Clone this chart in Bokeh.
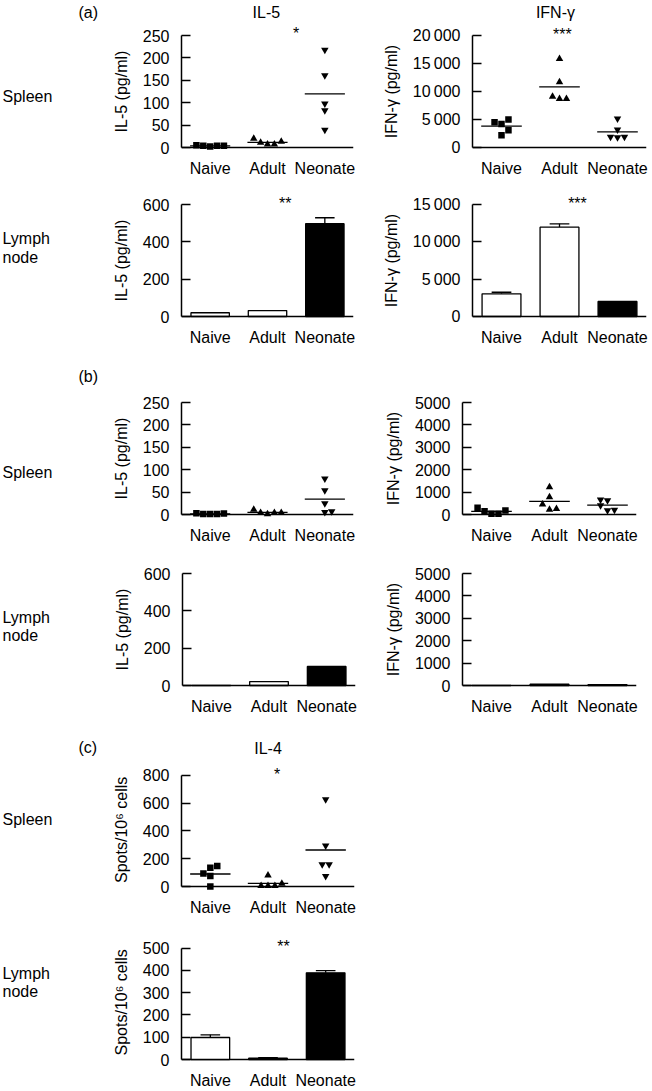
import numpy as np
from bokeh.plotting import figure
from bokeh.layouts import column, row
from bokeh.models import Range1d, FixedTicker, Span, Label, Title
from bokeh.core.properties import value
from bokeh.embed import file_html
from bokeh.resources import INLINE

# ---------------- data ----------------
categories = ["Naive", "Adult", "Neonate"]

# (a) spleen, IL-5 (pg/ml), individual mice
a_spl_il5_naive = [5, 4, 2, 4, 4]
a_spl_il5_adult = [20, 11, 7, 7, 13]
a_spl_il5_neonate = [218, 161, 98, 83, 39]
# (a) spleen, IFN-g (pg/ml)
a_spl_ifn_naive = [4500, 4200, 5000, 2200, 3100]
a_spl_ifn_adult = [15850, 11700, 9100, 8700, 8700]
a_spl_ifn_neonate = [5150, 3200, 1900, 1800, 1900]
# (a) lymph node, means and SEM
a_ln_il5_mean = [20, 32, 497]
a_ln_il5_sem = [0, 0, 32]
a_ln_ifn_mean = [3040, 11960, 2010]
a_ln_ifn_sem = [210, 450, 0]

# (b) spleen
b_spl_il5_naive = [3, 1, 1, 1, 2]
b_spl_il5_adult = [11, 4, 1, 4, 4]
b_spl_il5_neonate = [80, 54, 25, 5, 7]
b_spl_ifn_naive = [300, 150, 30, 30, 180]
b_spl_ifn_adult = [1220, 780, 450, 220, 250]
b_spl_ifn_neonate = [660, 630, 400, 180, 210]
# (b) lymph node
b_ln_il5_mean = [1, 21, 102]
b_ln_il5_sem = [0, 0, 0]
b_ln_ifn_mean = [5, 60, 40]
b_ln_ifn_sem = [0, 0, 0]

# (c) IL-4 spots / 10^6 cells
c_spl_il4_naive = [93, 76, 135, 147, 0]
c_spl_il4_adult = [81, 5, 5, 5, 21]
c_spl_il4_neonate = [626, 294, 159, 159, 75]
c_ln_il4_mean = [99, 6, 389]
c_ln_il4_sem = [12, 3, 10]

# horizontal spread of overlapping dots (in dot widths)
a_spl_il5_jitter = [[-2, -1, 0, 1, 2], [-2, -1, 0, 1, 2], [0, 0, 0, 0, 0]]
a_spl_ifn_jitter = [[-1, 0, 1, 0, 1], [0, 0, -1, 0, 1], [0, 0, -1, 0, 1]]
b_spl_il5_jitter = [[-2, -1, 0, 1, 2], [-2, -1, 0, 1, 2], [0, 0, 0, 0, 1]]
b_spl_ifn_jitter = [[-2, -1, 0, 1, 2], [0, 0, -1, 0, 1], [-1, 0, -1, 0, 1]]
c_spl_il4_jitter = [[-1, 0, 0, 1, 0], [0, -1, 0, 1, 2], [0, 0, -0.5, 0.5, 0]]

il5_spl_ticks = [0, 50, 100, 150, 200, 250]
ifn_a_spl_ticks = [0, 5000, 10000, 15000, 20000]
ifn_a_spl_labels = ["0", "5\u2009000", "10\u2009000", "15\u2009000", "20\u2009000"]
il5_ln_ticks = [0, 200, 400, 600]
ifn_a_ln_ticks = [0, 5000, 10000, 15000]
ifn_a_ln_labels = ["0", "5\u2009000", "10\u2009000", "15\u2009000"]
ifn_b_ticks = [0, 1000, 2000, 3000, 4000, 5000]
il4_spl_ticks = [0, 200, 400, 600, 800]
il4_ln_ticks = [0, 100, 200, 300, 400, 500]

# ---------------- styling ----------------
FONT = "Liberation Sans"
FS = "16px"
PAD = 6
STEP = 0.12
MARKERS = ["square", "triangle", "inverted_triangle"]
LW = 1.5
LBL_IL5, LBL_IFN, LBL_SPOTS = "IL-5 (pg/ml)", "IFN-\u03b3 (pg/ml)", "Spots/10\u2076 cells"
LBL_LEN = {LBL_IL5: 81.8, LBL_IFN: 93.3, LBL_SPOTS: 104.9}


def yd(y_top, f_top, axis_y, py):
    return y_top * (axis_y - py) / (axis_y - f_top)


def base_plot(width, height, f_left, f_right, f_top, axis_y, y_top, ticks, ylabel, labels=None):
    ax_h = axis_y - f_top
    y0 = -y_top * PAD / ax_h
    y1 = y_top * axis_y / ax_h
    p = figure(width=width, height=height, x_range=Range1d(0, 3), y_range=Range1d(y0, y1),
               output_backend="svg", toolbar_location=None, tools="")
    p.min_border_left = f_left
    p.min_border_right = width - f_right
    p.min_border_top = 0
    p.min_border_bottom = height - axis_y - PAD
    p.outline_line_color = None
    p.grid.visible = False
    p.background_fill_color = "white"
    p.border_fill_color = "white"

    ya = p.yaxis[0]
    ya.ticker = FixedTicker(ticks=ticks, minor_ticks=[])
    ya.bounds = (0, y_top)
    if labels is not None:
        ya.major_label_overrides = {t: l for t, l in zip(ticks, labels)}
    ya.major_tick_in = 9
    ya.major_tick_out = 0
    ya.minor_tick_in = 0
    ya.minor_tick_out = 0
    ya.axis_line_width = LW
    ya.major_tick_line_width = LW
    ya.axis_line_color = "black"
    ya.major_label_standoff = 12
    ya.major_label_text_font = FONT
    ya.major_label_text_font_size = FS
    ya.major_label_text_color = "black"

    L = LBL_LEN[ylabel]
    p.add_layout(Title(text=ylabel, align="left", offset=ax_h / 2 + PAD - L / 2, standoff=20,
                       text_font=FONT, text_font_size=FS, text_font_style="normal",
                       text_color="black"), "left")

    xa = p.xaxis[0]
    xa.ticker = FixedTicker(ticks=[0.5, 1.5, 2.5], minor_ticks=[])
    xa.major_label_overrides = {0.5 + i: c for i, c in enumerate(categories)}
    xa.axis_line_color = None
    xa.major_tick_line_color = None
    xa.minor_tick_line_color = None
    xa.major_label_standoff = 0
    xa.major_label_text_font = FONT
    xa.major_label_text_font_size = FS
    xa.major_label_text_color = "black"

    p.add_layout(Span(location=0, dimension="width", line_color="black", line_width=LW))
    return p


def draw_scatter(p, groups, jitters):
    for i, (vals, jit, mk) in enumerate(zip(groups, jitters, MARKERS)):
        xs = [i + 0.5 + j * STEP for j in jit]
        size = 6.5 if mk == "square" else 7.5
        p.scatter(x=xs, y=vals, marker=mk, size=size, fill_color="black", line_color=None)
        m = float(np.mean(vals))
        p.segment(x0=[i + 0.5 - 0.35], y0=[m], x1=[i + 0.5 + 0.35], y1=[m],
                  line_color="black", line_width=1.3)


def draw_bars(p, means, sems):
    xs = [0.5 + i for i in range(len(means))]
    for x, m, s in zip(xs, means, sems):
        if s > 0:
            p.segment(x0=[x], y0=[m], x1=[x], y1=[m + s], line_color="black", line_width=1.3)
            p.segment(x0=[x - 0.17], y0=[m + s], x1=[x + 0.17], y1=[m + s],
                      line_color="black", line_width=1.3)
    p.vbar(x=xs, top=means, bottom=0, width=0.67, fill_color=["white", "white", "black"],
           line_color="black", line_width=1.3)


def add_text(p, x, y, text, size=FS):
    p.add_layout(Label(x=x, y=y, text=text, text_font=FONT, text_font_size=size,
                       text_align="center", text_baseline="middle", text_color="black"))


def label_col(height, axis_y, items):
    fh = axis_y + PAD
    p = figure(width=100, height=height, x_range=Range1d(0, 100), y_range=Range1d(fh, 0),
               x_axis_type=None, y_axis_type=None, output_backend="svg",
               toolbar_location=None, tools="")
    p.min_border_left = 0
    p.min_border_right = 0
    p.min_border_top = 0
    p.min_border_bottom = height - fh
    p.outline_line_color = None
    p.grid.visible = False
    p.text(x=[it[0] for it in items], y=[it[1] for it in items], text=[it[2] for it in items],
           text_font=value(FONT), text_font_size=FS, text_baseline="middle", text_align="left",
           text_color="black")
    return p


LW_FIG, RW_FIG = 260, 292

# ---- row a1 (spleen) ----
H = 185; FT = 35; AX = 147
a1L = base_plot(LW_FIG, H, 79, 253, FT, AX, 250, il5_spl_ticks, LBL_IL5)
draw_scatter(a1L, [a_spl_il5_naive, a_spl_il5_adult, a_spl_il5_neonate], a_spl_il5_jitter)
add_text(a1L, 1.48, yd(250, FT, AX, 11.5), "IL-5")
add_text(a1L, 2.0, yd(250, FT, AX, 33), "*")
a1R = base_plot(RW_FIG, H, 112, 286, FT, AX, 20000, ifn_a_spl_ticks, LBL_IFN, ifn_a_spl_labels)
draw_scatter(a1R, [a_spl_ifn_naive, a_spl_ifn_adult, a_spl_ifn_neonate], a_spl_ifn_jitter)
add_text(a1R, 1.43, yd(20000, FT, AX, 11.5), "IFN-\u03b3")
add_text(a1R, 1.55, yd(20000, FT, AX, 34), "***")
c_a1 = label_col(H, AX, [(78, 12, "(a)"), (2, 96, "Spleen")])

# ---- row a2 (lymph node) ----
H = 170; FT = 19; AX = 131
a2L = base_plot(LW_FIG, H, 79, 253, FT, AX, 600, il5_ln_ticks, LBL_IL5)
draw_bars(a2L, a_ln_il5_mean, a_ln_il5_sem)
add_text(a2L, 1.81, yd(600, FT, AX, 18), "**")
a2R = base_plot(RW_FIG, H, 112, 286, FT, AX, 15000, ifn_a_ln_ticks, LBL_IFN, ifn_a_ln_labels)
draw_bars(a2R, a_ln_ifn_mean, a_ln_ifn_sem)
add_text(a2R, 1.81, yd(15000, FT, AX, 18), "***")
c_a2 = label_col(H, AX, [(2, 53, "Lymph"), (2, 72, "node")])

# ---- row b1 (spleen) ----
H = 195; FT = 47; AX = 159
b1L = base_plot(LW_FIG, H, 80, 253, FT, AX, 250, il5_spl_ticks, LBL_IL5)
draw_scatter(b1L, [b_spl_il5_naive, b_spl_il5_adult, b_spl_il5_neonate], b_spl_il5_jitter)
b1R = base_plot(RW_FIG, H, 102, 276, FT, AX, 5000, ifn_b_ticks, LBL_IFN)
draw_scatter(b1R, [b_spl_ifn_naive, b_spl_ifn_adult, b_spl_ifn_neonate], b_spl_ifn_jitter)
c_b1 = label_col(H, AX, [(78, 21, "(b)"), (2, 117, "Spleen")])

# ---- row b2 (lymph node) ----
H = 175; FT = 23; AX = 135
b2L = base_plot(LW_FIG, H, 82, 255, FT, AX, 600, il5_ln_ticks, LBL_IL5)
draw_bars(b2L, b_ln_il5_mean, b_ln_il5_sem)
b2R = base_plot(RW_FIG, H, 102, 276, FT, AX, 5000, ifn_b_ticks, LBL_IFN)
draw_bars(b2R, b_ln_ifn_mean, b_ln_ifn_sem)
c_b2 = label_col(H, AX, [(2, 67, "Lymph"), (2, 85, "node")])

# ---- row c1 (spleen IL-4) ----
H = 193; FT = 50; AX = 162
c1L = base_plot(LW_FIG, H, 81, 254, FT, AX, 800, il4_spl_ticks, LBL_SPOTS)
draw_scatter(c1L, [c_spl_il4_naive, c_spl_il4_adult, c_spl_il4_neonate], c_spl_il4_jitter)
add_text(c1L, 1.50, yd(800, FT, AX, 23), "IL-4")
add_text(c1L, 1.66, yd(800, FT, AX, 49), "*")
c_c1 = label_col(H, AX, [(78, 22, "(c)"), (2, 95, "Spleen")])

# ---- row c2 (lymph node IL-4) ----
H = 173; FT = 30; AX = 143
c2L = base_plot(LW_FIG, H, 80, 254, FT, AX, 500, il4_ln_ticks, LBL_SPOTS)
draw_bars(c2L, c_ln_il4_mean, c_ln_il4_sem)
add_text(c2L, 1.77, yd(500, FT, AX, 28), "**")
c_c2 = label_col(H, AX, [(2, 56, "Lymph"), (2, 74, "node")])

layout = column(
    row(c_a1, a1L, a1R),
    row(c_a2, a2L, a2R),
    row(c_b1, b1L, b1R),
    row(c_b2, b2L, b2R),
    row(c_c1, c1L),
    row(c_c2, c2L),
)

p = layout
open("out.html", "w").write(file_html(p, INLINE))
